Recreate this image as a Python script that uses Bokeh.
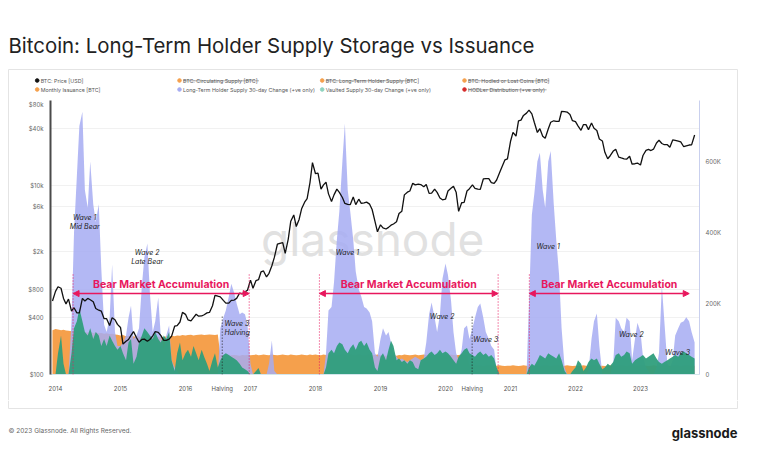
import numpy as np
import pandas as pd
from bokeh.plotting import figure
from bokeh.layouts import column
from bokeh.models import (Range1d, LinearScale, LinearAxis, FixedTicker, Label, Arrow,
                          NormalHead, ColumnDataSource)
from bokeh.core.properties import value
from bokeh.embed import file_html
from bokeh.resources import INLINE

# ---------------- data (semi-monthly samples) ----------------
dates = pd.date_range("2013-12-15", "2023-11-01", freq="SMS")

price_usd = [600,
    760, 850, 820, 640, 560, 630, 470, 510, 450, 450, 640, 600, 640, 620, 590, 500, 480, 470, 390, 390, 330, 400, 380, 340,
    315, 210, 225, 235, 260, 285, 245, 220, 235, 237, 225, 235, 257, 285, 280, 260, 230, 230, 237, 255, 325, 330, 360, 455,
    434, 380, 370, 400, 435, 415, 417, 430, 450, 455, 535, 690, 675, 665, 610, 570, 570, 610, 615, 640, 730, 715, 750, 780,
    1000, 820, 990, 1010, 1220, 1250, 1080, 1180, 1420, 1740, 2400, 2450, 2500, 1920, 2720, 4200, 4900, 3700, 4400, 5700, 6700, 7300, 10800, 17600,
    13400, 13600, 9200, 10200, 10900, 8200, 6800, 8000, 9200, 8500, 7500, 6500, 6350, 6300, 7600, 6300, 7200, 6500, 6600, 6700, 6380, 5600, 4200, 3250,
    3850, 3580, 3480, 3620, 3820, 3930, 4150, 5080, 5380, 8000, 8550, 8800, 10600, 10200, 10400, 10300, 9750, 10300, 8300, 8350, 9200, 8500, 7400, 7100,
    7200, 8800, 9400, 9900, 8550, 5350, 6600, 6650, 8800, 9300, 10200, 9400, 9200, 9150, 11800, 11900, 11900, 10800, 10600, 11500, 13800, 16000, 18800, 19300,
    29400, 36800, 33500, 48700, 49600, 55600, 58800, 63200, 57800, 46800, 36700, 40200, 33500, 31800, 39900, 47100, 48800, 48100, 48200, 61500, 61000, 60300, 57000, 48900,
    47700, 43100, 38700, 44500, 44400, 39300, 46300, 40600, 38500, 31300, 29800, 22600, 19300, 20800, 23300, 24300, 20100, 19700, 19300, 19100, 20500, 16900, 17100, 17400,
    16600, 20900, 23700, 24300, 23600, 24400, 28400, 30300, 28000, 27200, 27200, 25600, 30600, 30300, 29700, 29200, 25900, 26500, 27000, 27100, 34500]

# thousands of BTC
monthly_issuance_k = [125,
    128, 127, 125, 126, 124, 123, 122, 124, 121, 120, 122, 119, 118, 120, 117, 118, 116, 117, 115, 116, 114, 115, 113, 112,
    110, 111, 108, 109, 107, 108, 106, 107, 105, 106, 108, 107, 105, 106, 107, 105, 106, 108, 107, 109, 108, 110, 109, 111,
    110, 111, 112, 110, 111, 112, 113, 111, 112, 113, 112, 111, 113, 55, 54, 55, 53, 54, 55, 54, 53, 55, 54, 55,
    54, 55, 56, 54, 55, 56, 55, 54, 56, 55, 54, 55, 56, 55, 54, 56, 55, 54, 55, 56, 55, 54, 56, 55,
    56, 55, 54, 56, 55, 57, 55, 56, 54, 55, 56, 55, 54, 56, 55, 54, 56, 55, 54, 55, 56, 54, 55, 56,
    54, 55, 53, 54, 55, 54, 53, 55, 54, 56, 55, 54, 55, 56, 54, 55, 56, 55, 54, 55, 54, 53, 55, 54,
    55, 54, 56, 55, 54, 55, 56, 55, 54, 25, 24, 25, 26, 25, 24, 25, 26, 25, 24, 25, 26, 25, 24, 25,
    25, 26, 25, 24, 25, 26, 25, 24, 25, 26, 25, 24, 25, 26, 25, 24, 25, 26, 25, 24, 25, 26, 25, 24,
    25, 24, 25, 26, 25, 24, 25, 26, 25, 24, 25, 24, 25, 26, 25, 24, 25, 26, 25, 24, 25, 26, 25, 24,
    25, 26, 25, 24, 25, 26, 25, 24, 25, 26, 25, 24, 25, 26, 25, 24, 25, 26, 25, 24, 25]

lth_change_k = [0,
    0, 0, 0, 0, 0, 0, 150, 400, 560, 700, 740, 520, 470, 600, 480, 430, 480, 300, 140, 120, 160, 310, 120, 80,
    80, 90, 110, 160, 194, 100, 110, 130, 250, 330, 369, 230, 120, 150, 217, 110, 70, 110, 138, 40, 20, 10, 0, 0,
    0, 0, 0, 0, 0, 0, 0, 0, 0, 0, 0, 0, 0, 130, 160, 180, 220, 256, 230, 200, 170, 175, 170, 140,
    30, 0, 0, 0, 0, 0, 0, 30, 96, 10, 0, 0, 0, 0, 0, 0, 0, 0, 0, 0, 0, 0, 0, 0,
    0, 0, 0, 0, 60, 180, 190, 260, 380, 460, 600, 707, 520, 460, 380, 290, 240, 220, 190, 186, 175, 150, 60, 50,
    100, 130, 110, 120, 90, 60, 50, 40, 45, 40, 35, 40, 45, 50, 45, 40, 45, 90, 170, 203, 160, 120, 170, 270,
    313, 280, 210, 120, 60, 40, 70, 130, 138, 100, 130, 160, 190, 200, 160, 120, 100, 80, 70, 10, 0, 0, 0, 0,
    0, 0, 0, 0, 0, 0, 0, 200, 450, 510, 600, 625, 520, 470, 600, 630, 480, 380, 280, 130, 20, 0, 0, 0,
    0, 0, 0, 0, 0, 10, 100, 150, 172, 80, 0, 0, 0, 0, 30, 160, 150, 130, 120, 160, 150, 40, 100, 146,
    120, 50, 20, 10, 0, 0, 20, 60, 251, 150, 30, 20, 40, 110, 130, 146, 150, 161, 150, 120, 90]

vaulted_change_k = [0,
    0, 60, 110, 30, 0, 0, 60, 130, 150, 186, 150, 120, 110, 130, 100, 120, 110, 80, 100, 80, 110, 95, 80, 70,
    80, 60, 40, 90, 100, 30, 50, 90, 110, 130, 120, 110, 100, 120, 100, 90, 110, 100, 120, 40, 10, 60, 90, 40,
    60, 70, 50, 80, 60, 40, 70, 50, 30, 10, 40, 60, 20, 40, 55, 60, 55, 50, 45, 40, 30, 20, 15, 10,
    0, 0, 10, 18, 0, 0, 0, 0, 0, 0, 0, 0, 0, 0, 0, 0, 0, 0, 0, 0, 0, 0, 0, 0,
    0, 0, 0, 0, 20, 60, 70, 60, 80, 90, 85, 70, 60, 75, 85, 70, 90, 95, 80, 90, 70, 60, 20, 10,
    50, 60, 40, 70, 95, 80, 40, 45, 35, 40, 30, 40, 35, 20, 15, 40, 45, 50, 60, 65, 55, 60, 70, 60,
    65, 60, 50, 40, 30, 50, 60, 70, 75, 60, 55, 50, 60, 65, 55, 60, 50, 55, 45, 20, 0, 0, 0, 0,
    0, 0, 0, 0, 0, 0, 0, 20, 30, 25, 40, 55, 50, 45, 60, 55, 50, 45, 60, 40, 10, 0, 0, 10,
    20, 40, 30, 10, 20, 35, 45, 40, 45, 30, 15, 20, 30, 25, 35, 55, 60, 50, 55, 65, 60, 30, 40, 45,
    50, 55, 45, 50, 55, 60, 45, 35, 30, 35, 40, 45, 50, 55, 50, 60, 65, 60, 55, 50, 45]

price_ticks = [100, 400, 800, 2000, 6000, 10000, 40000, 80000]
price_tick_labels = ["$100", "$400", "$800", "$2k", "$6k", "$10k", "$40k", "$80k"]
supply_ticks = [0, 200000, 400000, 600000]
supply_tick_labels = ["0", "200K", "400K", "600K"]
year_ticks = list(range(2014, 2024))

halvings = [2016.565, 2020.41]
accumulation_periods = [(2014.27, 2016.98), (2018.06, 2020.81), (2021.29, 2023.75)]
accumulation_end_marked = [True, True, False]
waves = [  # (text lines, year, supply level of first line, align)
    (["Wave 1", "Mid Bear"], 2014.45, 442e3, "center"),
    (["Wave 2", "Late Bear"], 2015.41, 344e3, "center"),
    (["Wave 3", "Halving"], 2016.60, 144e3, "left"),
    (["Wave 1"], 2018.49, 344e3, "center"),
    (["Wave 2"], 2019.95, 163e3, "center"),
    (["Wave 3"], 2020.62, 99e3, "center"),
    (["Wave 1"], 2021.58, 361e3, "center"),
    (["Wave 2"], 2022.86, 113e3, "center"),
    (["Wave 3"], 2023.57, 62e3, "center"),
]

legend_entries = [  # (column, row, colour key, text, hidden series)
    (0, 0, "price", "BTC: Price [USD]", False),
    (1, 0, "orange", "BTC: Circulating Supply [BTC]", True),
    (2, 0, "orange", "BTC: Long-Term Holder Supply [BTC]", True),
    (3, 0, "orange", "BTC: Hodled or Lost Coins [BTC]", True),
    (0, 1, "orange", "Monthly Issuance [BTC]", False),
    (1, 1, "lav", "Long-Term Holder Supply 30-day Change (+ve only)", False),
    (2, 1, "teal", "Vaulted Supply 30-day Change (+ve only)", False),
    (3, 1, "red", "HODLer Distribution (+ve only)", True),
]

n = min(len(dates), len(price_usd), len(monthly_issuance_k), len(lth_change_k), len(vaulted_change_k))
dates = dates[:n]
t = dates.year + (dates.dayofyear - 1) / np.where(dates.is_leap_year, 366.0, 365.0)
src = ColumnDataSource(dict(
    t=np.asarray(t, dtype=float),
    price=price_usd[:n],
    iss=[v * 1000 for v in monthly_issuance_k[:n]],
    lth=[v * 1000 for v in lth_change_k[:n]],
    vault=[v * 1000 for v in vaulted_change_k[:n]],
))

# ---------------- styling ----------------
ORANGE = "#F5A04C"
LAV = "#A6ACF2"
GREEN = "#2F9E7C"
PINK = "#E8175D"
BORDER = "#e4e4e4"
FONT = "Inter"
COLORS = {"price": "#111111", "orange": ORANGE, "lav": LAV, "teal": "#8fd3bf", "red": "#d62a2a"}

W = 768
CARD_X0, CARD_X1, CARD_Y0, CARD_Y1 = 8, 737, 69, 408
HEAD_H, MAIN_H, FOOT_H = 100, 300, 63


def no_align(f):
    try:
        f.frame_align = False
    except Exception:
        pass


def blank(height, top):
    """A figure whose frame is the whole canvas, in page-pixel coordinates."""
    f = figure(width=W, height=height, output_backend="svg", toolbar_location=None,
               x_range=Range1d(0, W), y_range=Range1d(top + height, top),
               x_axis_location=None, y_axis_location=None, min_border=0)
    f.title.visible = False
    f.grid.visible = False
    f.outline_line_color = None
    f.background_fill_color = None
    f.border_fill_color = None
    no_align(f)
    return f


def style_axis(ax, standoff, color="#666666"):
    ax.major_tick_line_color = None
    ax.minor_tick_line_color = None
    ax.major_tick_out = 0
    ax.major_tick_in = 0
    ax.minor_tick_out = 0
    ax.minor_tick_in = 0
    ax.major_label_text_font = FONT
    ax.major_label_text_font_size = "6px"
    ax.major_label_text_color = color
    ax.major_label_standoff = standoff


# ---------------- header: title + legend ----------------
head = blank(HEAD_H, 0)
head.text(x=[8], y=[45], text=["Bitcoin: Long-Term Holder Supply Storage vs Issuance"],
          text_font=value(FONT), text_font_size=value("20.4px"), text_color="#222222",
          text_baseline="middle", text_align="left")
head.segment(x0=[CARD_X0, CARD_X0, CARD_X1], y0=[CARD_Y0, CARD_Y0, CARD_Y0],
             x1=[CARD_X1, CARD_X0, CARD_X1], y1=[CARD_Y0, HEAD_H, HEAD_H],
             line_color=BORDER, line_width=1)
col_x = [36.7, 179.0, 321.7, 464.0]
row_y = [80, 89]
lx = [col_x[c] for c, r, k, s, h in legend_entries]
ly = [row_y[r] for c, r, k, s, h in legend_entries]
head.scatter(x=lx, y=ly, size=3.6, color=[COLORS[k] for c, r, k, s, h in legend_entries])
head.text(x=[x + 3.5 for x in lx], y=ly, text=[s for c, r, k, s, h in legend_entries],
          text_font=value(FONT), text_font_size=value("5.3px"), text_color="#555555",
          text_baseline="middle", text_align="left")
struck = [(x, y, s) for x, y, (c, r, k, s, h) in zip(lx, ly, legend_entries) if h]
head.segment(x0=[x + 3.5 for x, y, s in struck], y0=[y + 0.3 for x, y, s in struck],
             x1=[x + 3.5 + 2.62 * len(s) for x, y, s in struck], y1=[y + 0.3 for x, y, s in struck],
             line_color="#777777", line_width=0.6)

# ---------------- main chart ----------------
p = figure(width=W, height=MAIN_H, output_backend="svg", toolbar_location=None,
           x_range=Range1d(2013.923, 2023.908), y_range=Range1d(100, 80000),
           y_axis_type="log", min_border_left=50, min_border_right=69,
           min_border_top=0, min_border_bottom=26,
           styles={"background-image": f"linear-gradient({BORDER},{BORDER}), linear-gradient({BORDER},{BORDER})",
                   "background-size": "1px 100%, 1px 100%",
                   "background-position": f"{CARD_X0}px 0px, {CARD_X1}px 0px",
                   "background-repeat": "no-repeat"})
no_align(p)
p.title.visible = False
p.outline_line_color = None
p.background_fill_color = "white"
p.border_fill_color = None
p.extra_y_ranges = {"supply": Range1d(0, 772000)}
p.extra_y_scales = {"supply": LinearScale()}

p.xgrid.visible = False
p.ygrid.ticker = FixedTicker(ticks=price_ticks)
p.ygrid.grid_line_color = "#f1f1f1"

ya = p.yaxis[0]
ya.ticker = FixedTicker(ticks=price_ticks)
ya.major_label_overrides = {k: v for k, v in zip(price_ticks, price_tick_labels)}
ya.axis_line_color = "#4a4a4a"
ya.axis_line_width = 2
style_axis(ya, 7)

xa = p.xaxis[0]
xa.ticker = FixedTicker(ticks=year_ticks + halvings)
xa.major_label_overrides = {h: "Halving" for h in halvings}
xa.axis_line_color = "#d3e6ec"
style_axis(xa, 10, "#555555")

ra = LinearAxis(y_range_name="supply", ticker=FixedTicker(ticks=supply_ticks))
ra.major_label_overrides = {k: v for k, v in zip(supply_ticks, supply_tick_labels)}
ra.axis_line_color = "#c9d0ee"
style_axis(ra, 6)
p.add_layout(ra, "right")

p.add_layout(Label(x=2018.88, y=383e3, y_range_name="supply", text="glassnode",
                   text_font=FONT, text_font_size="46px", text_color="#d9d9d9",
                   text_alpha=0.8, text_align="center", text_baseline="middle",
                   level="underlay"))

p.varea(x="t", y1=0, y2="iss", source=src, y_range_name="supply", fill_color=ORANGE, fill_alpha=1.0)
p.varea(x="t", y1=0, y2="lth", source=src, y_range_name="supply", fill_color=LAV, fill_alpha=0.85)
p.varea(x="t", y1=0, y2="vault", source=src, y_range_name="supply", fill_color=GREEN, fill_alpha=0.95)
p.line(x="t", y="price", source=src, line_color="#111111", line_width=1.3)

ACC_TEXT_Y, ACC_ARROW_Y, ACC_LINE_TOP = 253.5e3, 228e3, 285e3
for (a, b), mark_end in zip(accumulation_periods, accumulation_end_marked):
    for xx in ([a, b] if mark_end else [a]):
        p.add_layout(Arrow(x_start=xx, y_start=0, x_end=xx, y_end=ACC_LINE_TOP, end=None,
                           line_color=PINK, line_width=1, line_dash="1 2", y_range_name="supply"))
    p.add_layout(Arrow(x_start=a, y_start=ACC_ARROW_Y, x_end=b, y_end=ACC_ARROW_Y,
                       start=NormalHead(size=6, fill_color=PINK, line_color=PINK),
                       end=NormalHead(size=6, fill_color=PINK, line_color=PINK),
                       line_color=PINK, line_width=1.5, y_range_name="supply"))
    p.add_layout(Label(x=(a + b) / 2, y=ACC_TEXT_Y, y_range_name="supply",
                       text="Bear Market Accumulation", text_font=FONT, text_font_style="bold",
                       text_font_size="10.5px", text_color=PINK, text_align="center",
                       text_baseline="middle"))

for h in halvings:
    p.add_layout(Arrow(x_start=h, y_start=163e3, x_end=h, y_end=0, end=None,
                       line_color="#222222", line_width=1, line_dash="1 2",
                       y_range_name="supply"))

for lines, xx, yy, al in waves:
    for k, s in enumerate(lines):
        p.add_layout(Label(x=xx, y=yy - k * 25e3, y_range_name="supply", text=s, text_font=FONT,
                           text_font_style="italic", text_font_size="7px", text_color="#222222",
                           text_align=al, text_baseline="middle"))

# ---------------- footer ----------------
foot = blank(FOOT_H, HEAD_H + MAIN_H)
foot.segment(x0=[CARD_X0, CARD_X0, CARD_X1], y0=[CARD_Y1, HEAD_H + MAIN_H, HEAD_H + MAIN_H],
             x1=[CARD_X1, CARD_X0, CARD_X1], y1=[CARD_Y1, CARD_Y1, CARD_Y1],
             line_color=BORDER, line_width=1)
foot.text(x=[8], y=[430], text=["\u00a9 2023 Glassnode. All Rights Reserved."],
          text_font=value(FONT), text_font_size=value("6.5px"), text_color="#666666",
          text_baseline="middle", text_align="left")
foot.text(x=[737], y=[432], text=["glassnode"], text_font=value(FONT),
          text_font_size=value("13px"), text_font_style="bold", text_color="#1a1a1a",
          text_baseline="middle", text_align="right")

layout = column(head, p, foot, spacing=0)
open("out.html", "w").write(file_html(layout, INLINE))
